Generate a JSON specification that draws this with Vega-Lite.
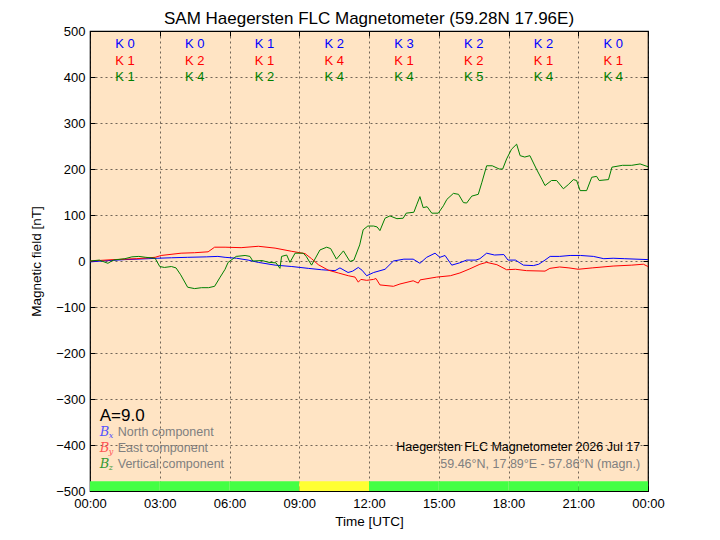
{
  "$schema": "https://vega.github.io/schema/vega-lite/v6.json",
  "width": 558,
  "height": 460,
  "autosize": "none",
  "padding": {"left": 90, "top": 31, "right": 72, "bottom": 49},
  "background": "white",
  "title": {
    "text": "SAM Haegersten FLC Magnetometer (59.28N 17.96E)",
    "fontSize": 17,
    "fontWeight": "normal",
    "font": "Liberation Sans",
    "color": "black",
    "offset": -3
  },
  "config": {
    "font": "Liberation Sans",
    "view": {"fill": "#ffe4c4", "stroke": "black", "strokeWidth": 1.2},
    "axis": {
      "domain": false,
      "tickColor": "black",
      "tickSize": -5,
      "labelPadding": 10,
      "labelFlush": false,
      "labelOverlap": false,
      "labelFontSize": 13,
      "labelColor": "black",
      "titleFontSize": 13.5,
      "titleFontWeight": "normal",
      "titleColor": "black",
      "gridColor": "#000000",
      "gridDash": [2, 3],
      "gridOpacity": 0.7,
      "gridWidth": 0.8
    }
  },
  "resolve": {"axis": {"x": "independent", "y": "independent"}},
  "datasets": {
    "band": [
      {"start": 0, "end": 3, "lo": -500, "hi": -479, "fill": "#44ff44"},
      {"start": 3, "end": 6, "lo": -500, "hi": -479, "fill": "#44ff44"},
      {"start": 6, "end": 9, "lo": -500, "hi": -479, "fill": "#44ff44"},
      {"start": 9, "end": 12, "lo": -500, "hi": -479, "fill": "#ffff33"},
      {"start": 12, "end": 15, "lo": -500, "hi": -479, "fill": "#44ff44"},
      {"start": 15, "end": 18, "lo": -500, "hi": -479, "fill": "#44ff44"},
      {"start": 18, "end": 21, "lo": -500, "hi": -479, "fill": "#44ff44"},
      {"start": 21, "end": 24, "lo": -500, "hi": -479, "fill": "#44ff44"}
    ],
    "field": [
      {"comp": "x", "h": 0.0, "v": -2}, {"comp": "x", "h": 0.5, "v": 0}, {"comp": "x", "h": 1.5, "v": 3},
      {"comp": "x", "h": 2.5, "v": 5}, {"comp": "x", "h": 2.92, "v": 6}, {"comp": "x", "h": 3.5, "v": 7},
      {"comp": "x", "h": 4.2, "v": 8}, {"comp": "x", "h": 5.0, "v": 9}, {"comp": "x", "h": 5.5, "v": 10},
      {"comp": "x", "h": 5.81, "v": 8}, {"comp": "x", "h": 6.3, "v": 6}, {"comp": "x", "h": 6.8, "v": 2},
      {"comp": "x", "h": 7.24, "v": -3}, {"comp": "x", "h": 7.96, "v": -9}, {"comp": "x", "h": 8.68, "v": -12},
      {"comp": "x", "h": 9.39, "v": -16}, {"comp": "x", "h": 9.96, "v": -19}, {"comp": "x", "h": 10.54, "v": -21},
      {"comp": "x", "h": 10.75, "v": -15}, {"comp": "x", "h": 11.1, "v": -25}, {"comp": "x", "h": 11.3, "v": -22},
      {"comp": "x", "h": 11.54, "v": -14}, {"comp": "x", "h": 11.7, "v": -20}, {"comp": "x", "h": 11.9, "v": -32},
      {"comp": "x", "h": 12.2, "v": -25}, {"comp": "x", "h": 12.69, "v": -18}, {"comp": "x", "h": 13.05, "v": 0},
      {"comp": "x", "h": 13.5, "v": 4}, {"comp": "x", "h": 13.9, "v": 4}, {"comp": "x", "h": 14.19, "v": -5},
      {"comp": "x", "h": 14.48, "v": 8}, {"comp": "x", "h": 14.84, "v": 17}, {"comp": "x", "h": 15.05, "v": 8},
      {"comp": "x", "h": 15.27, "v": 12}, {"comp": "x", "h": 15.56, "v": -9}, {"comp": "x", "h": 15.9, "v": -4},
      {"comp": "x", "h": 16.2, "v": 2}, {"comp": "x", "h": 16.6, "v": 2}, {"comp": "x", "h": 16.77, "v": 5},
      {"comp": "x", "h": 17.06, "v": 17}, {"comp": "x", "h": 17.4, "v": 13}, {"comp": "x", "h": 17.8, "v": 14},
      {"comp": "x", "h": 17.98, "v": 2}, {"comp": "x", "h": 18.3, "v": 2}, {"comp": "x", "h": 18.64, "v": -9},
      {"comp": "x", "h": 19.07, "v": -10}, {"comp": "x", "h": 19.3, "v": -7}, {"comp": "x", "h": 19.57, "v": 2},
      {"comp": "x", "h": 19.79, "v": 10}, {"comp": "x", "h": 20.2, "v": 10}, {"comp": "x", "h": 20.65, "v": 12},
      {"comp": "x", "h": 21.1, "v": 12}, {"comp": "x", "h": 21.65, "v": 10}, {"comp": "x", "h": 22.1, "v": 5},
      {"comp": "x", "h": 22.5, "v": 6}, {"comp": "x", "h": 23.0, "v": 5}, {"comp": "x", "h": 24.0, "v": 3},

      {"comp": "y", "h": 0.0, "v": 0}, {"comp": "y", "h": 1.0, "v": 3}, {"comp": "y", "h": 2.0, "v": 5},
      {"comp": "y", "h": 2.8, "v": 8}, {"comp": "y", "h": 3.06, "v": 12}, {"comp": "y", "h": 3.92, "v": 17},
      {"comp": "y", "h": 4.5, "v": 18}, {"comp": "y", "h": 5.08, "v": 20}, {"comp": "y", "h": 5.36, "v": 30},
      {"comp": "y", "h": 5.81, "v": 30}, {"comp": "y", "h": 6.5, "v": 29}, {"comp": "y", "h": 7.24, "v": 32},
      {"comp": "y", "h": 7.96, "v": 28}, {"comp": "y", "h": 8.68, "v": 21}, {"comp": "y", "h": 9.25, "v": 16},
      {"comp": "y", "h": 9.53, "v": 5}, {"comp": "y", "h": 9.82, "v": -8}, {"comp": "y", "h": 10.25, "v": -20},
      {"comp": "y", "h": 10.68, "v": -26}, {"comp": "y", "h": 11.11, "v": -32}, {"comp": "y", "h": 11.4, "v": -35},
      {"comp": "y", "h": 11.54, "v": -46}, {"comp": "y", "h": 11.65, "v": -40}, {"comp": "y", "h": 11.9, "v": -42},
      {"comp": "y", "h": 12.2, "v": -40}, {"comp": "y", "h": 12.3, "v": -38}, {"comp": "y", "h": 12.47, "v": -52},
      {"comp": "y", "h": 13.05, "v": -55}, {"comp": "y", "h": 13.33, "v": -50}, {"comp": "y", "h": 13.9, "v": -43},
      {"comp": "y", "h": 14.12, "v": -48}, {"comp": "y", "h": 14.2, "v": -41}, {"comp": "y", "h": 14.91, "v": -35},
      {"comp": "y", "h": 15.5, "v": -32}, {"comp": "y", "h": 15.91, "v": -26}, {"comp": "y", "h": 16.34, "v": -17},
      {"comp": "y", "h": 16.77, "v": -7}, {"comp": "y", "h": 17.06, "v": -3}, {"comp": "y", "h": 17.5, "v": -8},
      {"comp": "y", "h": 17.92, "v": -19}, {"comp": "y", "h": 18.3, "v": -18}, {"comp": "y", "h": 18.78, "v": -21},
      {"comp": "y", "h": 19.57, "v": -22}, {"comp": "y", "h": 19.78, "v": -16}, {"comp": "y", "h": 20.2, "v": -13},
      {"comp": "y", "h": 20.6, "v": -15}, {"comp": "y", "h": 21.0, "v": -18}, {"comp": "y", "h": 21.6, "v": -15},
      {"comp": "y", "h": 22.5, "v": -11}, {"comp": "y", "h": 23.3, "v": -9}, {"comp": "y", "h": 23.8, "v": -7},
      {"comp": "y", "h": 24.0, "v": -12},

      {"comp": "z", "h": 0.0, "v": 0}, {"comp": "z", "h": 0.4, "v": 2}, {"comp": "z", "h": 0.77, "v": -5},
      {"comp": "z", "h": 1.0, "v": 2}, {"comp": "z", "h": 1.5, "v": 5}, {"comp": "z", "h": 1.8, "v": 9},
      {"comp": "z", "h": 2.1, "v": 10}, {"comp": "z", "h": 2.4, "v": 8}, {"comp": "z", "h": 2.8, "v": 6},
      {"comp": "z", "h": 3.0, "v": -12}, {"comp": "z", "h": 3.2, "v": -14}, {"comp": "z", "h": 3.5, "v": -12},
      {"comp": "z", "h": 3.7, "v": -15}, {"comp": "z", "h": 3.9, "v": -30}, {"comp": "z", "h": 4.2, "v": -57},
      {"comp": "z", "h": 4.5, "v": -60}, {"comp": "z", "h": 4.8, "v": -58}, {"comp": "z", "h": 5.1, "v": -58},
      {"comp": "z", "h": 5.36, "v": -55}, {"comp": "z", "h": 5.6, "v": -35}, {"comp": "z", "h": 5.81, "v": -18},
      {"comp": "z", "h": 5.94, "v": -3}, {"comp": "z", "h": 6.29, "v": 10}, {"comp": "z", "h": 6.67, "v": 12},
      {"comp": "z", "h": 6.88, "v": 10}, {"comp": "z", "h": 7.0, "v": 0}, {"comp": "z", "h": 7.4, "v": 1},
      {"comp": "z", "h": 7.7, "v": -3}, {"comp": "z", "h": 8.0, "v": -4}, {"comp": "z", "h": 8.17, "v": -16},
      {"comp": "z", "h": 8.24, "v": 10}, {"comp": "z", "h": 8.46, "v": 13}, {"comp": "z", "h": 8.6, "v": -3},
      {"comp": "z", "h": 8.82, "v": 17}, {"comp": "z", "h": 9.17, "v": 17}, {"comp": "z", "h": 9.3, "v": 10},
      {"comp": "z", "h": 9.53, "v": -9}, {"comp": "z", "h": 9.89, "v": 24}, {"comp": "z", "h": 10.18, "v": 30},
      {"comp": "z", "h": 10.35, "v": 27}, {"comp": "z", "h": 10.6, "v": 4}, {"comp": "z", "h": 10.9, "v": 22},
      {"comp": "z", "h": 11.18, "v": -1}, {"comp": "z", "h": 11.35, "v": 2}, {"comp": "z", "h": 11.6, "v": 35},
      {"comp": "z", "h": 11.75, "v": 68}, {"comp": "z", "h": 11.95, "v": 76}, {"comp": "z", "h": 12.2, "v": 76},
      {"comp": "z", "h": 12.35, "v": 74}, {"comp": "z", "h": 12.47, "v": 66}, {"comp": "z", "h": 12.69, "v": 93},
      {"comp": "z", "h": 12.9, "v": 98}, {"comp": "z", "h": 13.2, "v": 92}, {"comp": "z", "h": 13.47, "v": 93},
      {"comp": "z", "h": 13.6, "v": 104}, {"comp": "z", "h": 13.93, "v": 106}, {"comp": "z", "h": 14.05, "v": 122},
      {"comp": "z", "h": 14.19, "v": 140}, {"comp": "z", "h": 14.33, "v": 116}, {"comp": "z", "h": 14.5, "v": 118},
      {"comp": "z", "h": 14.7, "v": 104}, {"comp": "z", "h": 14.98, "v": 104}, {"comp": "z", "h": 15.2, "v": 120},
      {"comp": "z", "h": 15.35, "v": 134}, {"comp": "z", "h": 15.63, "v": 147}, {"comp": "z", "h": 15.85, "v": 145},
      {"comp": "z", "h": 16.06, "v": 127}, {"comp": "z", "h": 16.2, "v": 126}, {"comp": "z", "h": 16.42, "v": 141},
      {"comp": "z", "h": 16.7, "v": 145}, {"comp": "z", "h": 16.85, "v": 170}, {"comp": "z", "h": 17.06, "v": 207},
      {"comp": "z", "h": 17.3, "v": 207}, {"comp": "z", "h": 17.6, "v": 200}, {"comp": "z", "h": 17.75, "v": 200},
      {"comp": "z", "h": 17.92, "v": 222}, {"comp": "z", "h": 18.13, "v": 243}, {"comp": "z", "h": 18.35, "v": 254},
      {"comp": "z", "h": 18.5, "v": 229}, {"comp": "z", "h": 18.7, "v": 226}, {"comp": "z", "h": 18.92, "v": 229},
      {"comp": "z", "h": 19.2, "v": 200}, {"comp": "z", "h": 19.43, "v": 178}, {"comp": "z", "h": 19.57, "v": 164},
      {"comp": "z", "h": 19.85, "v": 175}, {"comp": "z", "h": 20.07, "v": 175}, {"comp": "z", "h": 20.36, "v": 157},
      {"comp": "z", "h": 20.57, "v": 166}, {"comp": "z", "h": 20.79, "v": 177}, {"comp": "z", "h": 20.93, "v": 175},
      {"comp": "z", "h": 21.08, "v": 153}, {"comp": "z", "h": 21.36, "v": 153}, {"comp": "z", "h": 21.58, "v": 182},
      {"comp": "z", "h": 21.79, "v": 184}, {"comp": "z", "h": 21.9, "v": 175}, {"comp": "z", "h": 22.3, "v": 177},
      {"comp": "z", "h": 22.45, "v": 204}, {"comp": "z", "h": 22.9, "v": 208}, {"comp": "z", "h": 23.3, "v": 208},
      {"comp": "z", "h": 23.66, "v": 211}, {"comp": "z", "h": 24.0, "v": 205}
    ],
    "kindex": [
      {"h": 1.5, "v": 472, "label": "K 0", "comp": "x"}, {"h": 1.5, "v": 435, "label": "K 1", "comp": "y"}, {"h": 1.5, "v": 400, "label": "K 1", "comp": "z"},
      {"h": 4.5, "v": 472, "label": "K 0", "comp": "x"}, {"h": 4.5, "v": 435, "label": "K 2", "comp": "y"}, {"h": 4.5, "v": 400, "label": "K 4", "comp": "z"},
      {"h": 7.5, "v": 472, "label": "K 1", "comp": "x"}, {"h": 7.5, "v": 435, "label": "K 1", "comp": "y"}, {"h": 7.5, "v": 400, "label": "K 2", "comp": "z"},
      {"h": 10.5, "v": 472, "label": "K 2", "comp": "x"}, {"h": 10.5, "v": 435, "label": "K 4", "comp": "y"}, {"h": 10.5, "v": 400, "label": "K 4", "comp": "z"},
      {"h": 13.5, "v": 472, "label": "K 3", "comp": "x"}, {"h": 13.5, "v": 435, "label": "K 1", "comp": "y"}, {"h": 13.5, "v": 400, "label": "K 4", "comp": "z"},
      {"h": 16.5, "v": 472, "label": "K 2", "comp": "x"}, {"h": 16.5, "v": 435, "label": "K 2", "comp": "y"}, {"h": 16.5, "v": 400, "label": "K 5", "comp": "z"},
      {"h": 19.5, "v": 472, "label": "K 2", "comp": "x"}, {"h": 19.5, "v": 435, "label": "K 1", "comp": "y"}, {"h": 19.5, "v": 400, "label": "K 4", "comp": "z"},
      {"h": 22.5, "v": 472, "label": "K 0", "comp": "x"}, {"h": 22.5, "v": 435, "label": "K 1", "comp": "y"}, {"h": 22.5, "v": 400, "label": "K 4", "comp": "z"}
    ],
    "legend": [
      {"h": 0.42, "v": -372, "sub": "x", "label": "North component", "swatch": "#5555ff"},
      {"h": 0.42, "v": -406, "sub": "y", "label": "East component", "swatch": "#ff5555"},
      {"h": 0.42, "v": -442, "sub": "z", "label": "Vertical component", "swatch": "#339933"}
    ],
    "notes": [
      {"h": 23.66, "v": -404, "text": "Haegersten FLC Magnetometer 2026 Jul 17", "tone": "#000000"},
      {"h": 23.66, "v": -441, "text": "59.46°N, 17.89°E - 57.86°N (magn.)", "tone": "#808080"}
    ],
    "activity": [
      {"h": 0.42, "v": -338, "text": "A=9.0"}
    ]
  },
  "layer": [
    {
      "data": {"name": "band"},
      "mark": {"type": "rect"},
      "encoding": {
        "x": {
          "field": "start", "type": "quantitative",
          "scale": {"domain": [0, 24], "nice": false, "zero": false},
          "axis": {
            "orient": "bottom",
            "values": [0, 3, 6, 9, 12, 15, 18, 21, 24],
            "labelExpr": "(datum.value % 24 < 10 ? '0' : '') + (datum.value % 24) + ':00'",
            "labelPadding": 11,
            "title": "Time [UTC]",
            "titlePadding": 4,
            "grid": true
          }
        },
        "x2": {"field": "end"},
        "y": {
          "field": "lo", "type": "quantitative",
          "scale": {"domain": [-500, 500], "nice": false, "zero": false},
          "axis": {
            "orient": "left",
            "values": [-500, -400, -300, -200, -100, 0, 100, 200, 300, 400, 500],
            "title": "Magnetic field [nT]",
            "titlePadding": 12,
            "grid": true
          }
        },
        "y2": {"field": "hi"},
        "color": {"field": "fill", "type": "nominal", "scale": null}
      }
    },
    {
      "data": {"name": "field"},
      "mark": {"type": "line", "strokeWidth": 1, "interpolate": "linear"},
      "encoding": {
        "x": {"field": "h", "type": "quantitative", "axis": null},
        "y": {"field": "v", "type": "quantitative", "axis": null},
        "color": {
          "field": "comp", "type": "nominal",
          "scale": {"domain": ["x", "y", "z"], "range": ["#0000ff", "#ff0000", "#008000"]},
          "legend": null
        },
        "order": {"field": "h", "type": "quantitative"}
      }
    },
    {
      "data": {"name": "kindex"},
      "mark": {"type": "text", "fontSize": 13, "align": "center", "baseline": "middle"},
      "encoding": {
        "x": {
          "field": "h", "type": "quantitative",
          "axis": {"orient": "top", "values": [0, 3, 6, 9, 12, 15, 18, 21, 24], "labels": false, "grid": false, "title": null}
        },
        "y": {
          "field": "v", "type": "quantitative",
          "axis": {"orient": "right", "values": [-500, -400, -300, -200, -100, 0, 100, 200, 300, 400, 500], "labels": false, "grid": false, "title": null}
        },
        "text": {"field": "label"},
        "color": {
          "field": "comp", "type": "nominal",
          "scale": {"domain": ["x", "y", "z"], "range": ["#0000ff", "#ff0000", "#008000"]},
          "legend": null
        }
      }
    },
    {
      "data": {"name": "legend"},
      "mark": {"type": "text", "font": "DejaVu Serif", "fontStyle": "italic", "fontSize": 13, "align": "left", "baseline": "middle"},
      "encoding": {
        "x": {"field": "h", "type": "quantitative", "axis": null},
        "y": {"field": "v", "type": "quantitative", "axis": null},
        "text": {"value": "B"},
        "color": {"field": "swatch", "type": "nominal", "scale": null}
      }
    },
    {
      "data": {"name": "legend"},
      "mark": {"type": "text", "font": "DejaVu Serif", "fontStyle": "italic", "fontSize": 8, "align": "left", "baseline": "middle", "dx": 9, "dy": 4},
      "encoding": {
        "x": {"field": "h", "type": "quantitative", "axis": null},
        "y": {"field": "v", "type": "quantitative", "axis": null},
        "text": {"field": "sub"},
        "color": {"field": "swatch", "type": "nominal", "scale": null}
      }
    },
    {
      "data": {"name": "legend"},
      "mark": {"type": "text", "fontSize": 12.5, "align": "left", "baseline": "middle", "dx": 18, "color": "#808080"},
      "encoding": {
        "x": {"field": "h", "type": "quantitative", "axis": null},
        "y": {"field": "v", "type": "quantitative", "axis": null},
        "text": {"field": "label"}
      }
    },
    {
      "data": {"name": "notes"},
      "mark": {"type": "text", "fontSize": 12.5, "align": "right", "baseline": "middle"},
      "encoding": {
        "x": {"field": "h", "type": "quantitative", "axis": null},
        "y": {"field": "v", "type": "quantitative", "axis": null},
        "text": {"field": "text"},
        "color": {"field": "tone", "type": "nominal", "scale": null}
      }
    },
    {
      "data": {"name": "activity"},
      "mark": {"type": "text", "fontSize": 17, "align": "left", "baseline": "middle", "color": "black"},
      "encoding": {
        "x": {"field": "h", "type": "quantitative", "axis": null},
        "y": {"field": "v", "type": "quantitative", "axis": null},
        "text": {"field": "text"}
      }
    }
  ]
}
